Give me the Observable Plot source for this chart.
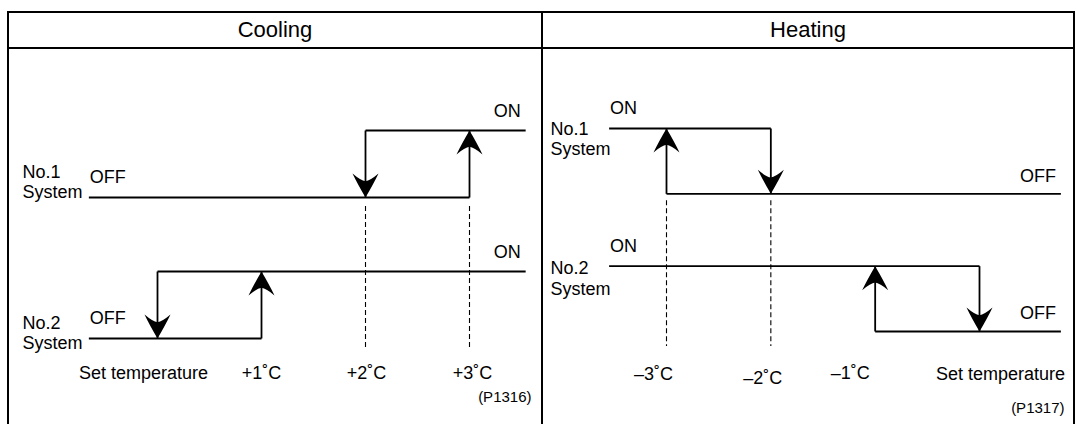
<!DOCTYPE html>
<html>
<head>
<meta charset="utf-8">
<script src="https://cdn.jsdelivr.net/npm/d3@7"></script>
<script src="https://cdn.jsdelivr.net/npm/@observablehq/plot@0.6"></script>
<style>
  html, body { margin: 0; padding: 0; background: #fff; }
  body { font-family: "Liberation Sans", Arial, sans-serif; color: #000; }
  #page { position: relative; width: 1076px; height: 424px; overflow: hidden; }
  .frame { position: absolute; left: 7px; top: 11px; width: 1068px; height: 440px; border: 2px solid #000; box-sizing: border-box; }
  .hline { position: absolute; left: 7px; top: 47px; width: 1068px; height: 2px; background: #000; }
  .vline { position: absolute; left: 541px; top: 11px; width: 2px; height: 440px; background: #000; }
  .head { position: absolute; top: 13px; height: 34px; line-height: 34px; text-align: center; font-size: 22px; }
  .panel { position: absolute; top: 49px; }
  .panel svg { display: block; }
</style>
</head>
<body>
<div id="page">
  <div class="frame"></div>
  <div class="hline"></div>
  <div class="vline"></div>
  <div class="head" id="h0" style="left:9px;width:532px;"></div>
  <div class="head" id="h1" style="left:543px;width:530px;"></div>
  <div class="panel" id="p0" style="left:9px;"></div>
  <div class="panel" id="p1" style="left:543px;"></div>
</div>
<script>
// ---------- data ----------
const panelTitles = ["Cooling", "Heating"];
const systemNames = ["No.1\nSystem", "No.2\nSystem"];
const stateNames = ["ON", "OFF"];
const figureCodes = ["(P1316)", "(P1317)"];

// Cooling: temperature relative to set temperature (°C)
const coolTicks = [0, 1, 2, 3];
const coolTickLabels = ["Set temperature", "+1˚C", "+2˚C", "+3˚C"];
const coolExtent = [-0.66, 3.54];
const coolOnAt = [3, 1];    // No.1, No.2 switch ON when rising to
const coolOffAt = [2, 0];   // No.1, No.2 switch OFF when falling to
const coolDashed = [2, 3];

// Heating
const heatTicks = [-3, -2, -1, 0];
const heatTickLabels = ["–3˚C", "–2˚C", "–1˚C", "Set temperature"];
const heatExtent = [-3.55, 0.78];
const heatOnAt = [-3, -1];  // No.1, No.2 switch ON when falling to
const heatOffAt = [-2, 0];  // No.1, No.2 switch OFF when rising to
const heatDashed = [-3, -2];

// ---------- styling / layout (not data) ----------
const FONT = "Liberation Sans, Arial, sans-serif";
const FS = 18;
const STEP = 0.475; // ON step height relative to row spacing
const levelY = (sys, state) => (sys === 0 ? 1 : 0) + (state === "ON" ? STEP : 0);

// filled arrowhead; tip at the origin
function arrowHead(dir) {
  const s = dir === "up" ? 1 : -1;
  return {
    draw(ctx) {
      const w = 13, h = 24;
      ctx.moveTo(0, 0);
      ctx.quadraticCurveTo(-w * 0.6, s * h * 0.55, -w, s * h);
      ctx.quadraticCurveTo(-w * 0.35, s * h * 0.7, 0, s * h * 0.68);
      ctx.quadraticCurveTo(w * 0.35, s * h * 0.7, w, s * h);
      ctx.quadraticCurveTo(w * 0.6, s * h * 0.55, 0, 0);
      ctx.closePath();
    }
  };
}
const HEAD_UP = arrowHead("up"), HEAD_DOWN = arrowHead("down");

const layouts = [
  { width: 532, xRange: [148, 460], yRange: [289, 81], tickDx: [-14, 0, 1, 3], tickDy: [0, 0, 0, 0],
    tickY: -46, sysDy: [-16, -6], sysAnchorState: "OFF", dashInset: [9, -12], codePos: [-10, -23],
    stateDy: { ON: -19, OFF: -20 } },
  { width: 530, xRange: [123, 436], yRange: [282, 79], tickDx: [-13, -8, -25, 21], tickDy: [0, 4, -1, 0],
    tickY: -45, sysDy: [10, 12], sysAnchorState: "ON", dashInset: [7, -15], codePos: [-9, -12],
    stateDy: { ON: -20, OFF: -18 } }
];

function buildPanel(idx, mode, ticks, tickLabels, extent, onAt, offAt, dashed) {
  const L = layouts[idx];
  const segs = [], heads = [], stateLabels = [], sysLabels = [];
  onAt.forEach((on, i) => {
    const off = offAt[i];
    const yOn = levelY(i, "ON"), yOff = levelY(i, "OFF");
    const lowState = mode === "cooling" ? "OFF" : "ON";
    const highState = mode === "cooling" ? "ON" : "OFF";
    const lowEnd = mode === "cooling" ? on : off;
    const highStart = mode === "cooling" ? off : on;
    segs.push({ x1: extent[0], x2: lowEnd, y1: levelY(i, lowState), y2: levelY(i, lowState) });
    segs.push({ x1: highStart, x2: extent[1], y1: levelY(i, highState), y2: levelY(i, highState) });
    segs.push({ x1: on, x2: on, y1: yOff, y2: yOn });
    segs.push({ x1: off, x2: off, y1: yOn, y2: yOff });
    heads.push({ x: on, y: yOn, sym: HEAD_UP });
    heads.push({ x: off, y: yOff, sym: HEAD_DOWN });
    stateLabels.push({ x: extent[0], y: levelY(i, lowState), text: lowState, anchor: "start", dy: L.stateDy[lowState] });
    stateLabels.push({ x: extent[1], y: levelY(i, highState), text: highState, anchor: "end", dy: L.stateDy[highState] });
    sysLabels.push({ y: levelY(i, L.sysAnchorState), text: systemNames[i], dy: L.sysDy[i] });
  });
  const tickData = ticks.map((t, k) => ({ x: t, text: tickLabels[k], dx: L.tickDx[k], dy: L.tickDy[k] }));

  return Plot.plot({
    width: L.width,
    height: 375,
    margin: 0,
    style: { fontFamily: FONT, fontSize: FS + "px", background: "transparent", color: "#000" },
    x: { domain: [ticks[0], ticks[ticks.length - 1]], range: L.xRange, axis: null },
    y: { domain: [0, 1 + STEP], range: L.yRange, axis: null },
    marks: [
      Plot.ruleX(dashed, { x: d => d, y1: 1, y2: 0, insetTop: L.dashInset[0], insetBottom: L.dashInset[1],
        stroke: "#000", strokeWidth: 1.1, strokeDasharray: "5,3" }),
      Plot.link(segs, { x1: "x1", y1: "y1", x2: "x2", y2: "y2", stroke: "#000", strokeWidth: 1.8 }),
      ...heads.map(h => Plot.dot([h], { x: "x", y: "y", r: 12, symbol: h.sym, fill: "#000", stroke: "none" })),
      ...stateLabels.map(s => Plot.text([s], { x: "x", y: "y", text: "text", textAnchor: s.anchor,
        dy: s.dy, dx: s.anchor === "end" ? -5 : 1, fontSize: FS, fill: "#000" })),
      ...sysLabels.map(s => Plot.text([s], { y: "y", text: "text", frameAnchor: "left", textAnchor: "start",
        dx: idx === 0 ? 13 : 7, dy: s.dy, lineHeight: 1.15, fontSize: FS, fill: "#000" })),
      ...tickData.map(t => Plot.text([t], { x: "x", text: "text", frameAnchor: "bottom", textAnchor: "middle",
        dx: t.dx, dy: L.tickY + t.dy, fontSize: FS, fill: "#000" })),
      Plot.text([figureCodes[idx]], { text: d => d, frameAnchor: "bottom-right", textAnchor: "end",
        dx: L.codePos[0], dy: L.codePos[1], fontSize: 15, fill: "#000" })
    ]
  });
}

document.getElementById("h0").textContent = panelTitles[0];
document.getElementById("h1").textContent = panelTitles[1];
document.getElementById("p0").appendChild(
  buildPanel(0, "cooling", coolTicks, coolTickLabels, coolExtent, coolOnAt, coolOffAt, coolDashed));
document.getElementById("p1").appendChild(
  buildPanel(1, "heating", heatTicks, heatTickLabels, heatExtent, heatOnAt, heatOffAt, heatDashed));
</script>
</body>
</html>
